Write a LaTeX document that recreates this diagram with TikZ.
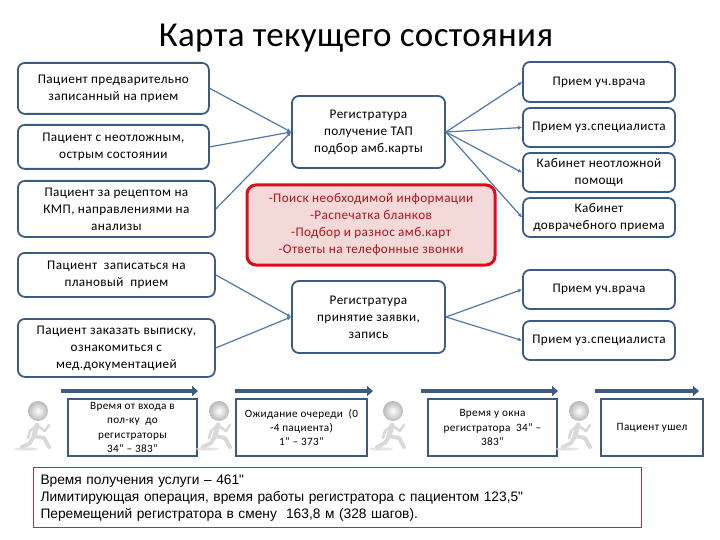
\documentclass[tikz,border=0pt]{standalone}
\usepackage{fontspec}
\setmainfont{Carlito}[LetterSpace=3]
\newfontfamily\titlefont{Carlito}[LetterSpace=1]
\newfontfamily\infofont{Liberation Sans}
\usepackage{tikz}
\usetikzlibrary{arrows.meta,positioning}
\definecolor{BoxBlue}{HTML}{3D5B80}
\definecolor{LinkBlue}{HTML}{4F79A8}
\definecolor{AlarmRed}{HTML}{DE0B1C}
\definecolor{AlarmText}{HTML}{B5121B}
\definecolor{AlarmFill}{HTML}{F3DAD9}
\definecolor{InfoRed}{HTML}{A4373F}
\tikzset{
  runner/.pic={
    \fill[gray!30,opacity=.7] (-12,38) ellipse (12 and 1.6);
    \draw[gray!30,line width=5pt,line cap=round,line join=round] (-1,14) -- (-4,25);
    \draw[gray!30,line width=4pt,line cap=round,line join=round] (-4,25) -- (6,27) -- (11,36);
    \draw[gray!30,line width=4pt,line cap=round,line join=round] (-4,25) -- (-8,32) -- (-16,36);
    \draw[gray!30,line width=2.6pt,line cap=round,line join=round] (-2,15) -- (-8,20) -- (-10,27);
    \draw[gray!30,line width=2.6pt,line cap=round,line join=round] (0,15) -- (7,20) -- (11,14);
    \shade[inner color=white,outer color=gray!55] (0,0) circle (10);
  }
}
\begin{document}
\begin{tikzpicture}[x=1pt,y=-1pt,
    box/.style={draw=BoxBlue,line width=1.8pt,rounded corners=7pt,fill=white,align=center,
                inner sep=1pt,font=\fontsize{13.2}{17}\selectfont},
    leftbox/.style={box,anchor=north west,minimum width=191pt},
    widebox/.style={leftbox,minimum width=197pt},
    midbox/.style={box,minimum width=153pt,minimum height=72pt},
    rightbox/.style={box,minimum width=152pt,minimum height=39pt},
    stepbox/.style={draw=BoxBlue,line width=1.8pt,align=center,inner sep=1pt,
                    font=\fontsize{11.2}{14.4}\selectfont,minimum height=57pt},
    link/.style={-{Latex[length=4pt,width=4pt]},line width=1.2pt,LinkBlue},
    flow/.style={-{Triangle[length=6pt,width=10pt]},line width=4pt,BoxBlue}]
    \path[use as bounding box] (0,0) rectangle (720,540);
    \node[font=\titlefont\fontsize{35}{40}\selectfont] (title) at (356,38) {Карта текущего состояния};
    % left column
    \node[leftbox,minimum height=51pt] (planned) at (17,62) {Пациент предварительно\\записанный на прием};
    \node[leftbox,minimum height=44pt] (urgent) at (17,124) {Пациент с неотложным,\\острым состоянии};
    \node[widebox,minimum height=56pt] (recipe) at (17,180) {Пациент за рецептом на\\КМП, направлениями на\\анализы};
    \node[widebox,minimum height=44pt] (signup) at (17,252) {Пациент\ \ записаться на\\плановый\ \ прием};
    \node[widebox,minimum height=58pt] (records) at (17,318) {Пациент заказать выписку,\\ознакомиться с\\мед.документацией};
    % middle column
    \node[midbox] (desk) at (368.5,132) {Регистратура\\получение ТАП\\подбор амб.карты};
    \node[box,draw=AlarmRed,line width=3pt,rounded corners=9pt,fill=AlarmFill,text=AlarmText,
          minimum width=248pt,minimum height=80pt] (extra) at (371,225)
          {-Поиск необходимой информации\\-Распечатка бланков\\-Подбор и разнос амб.карт\\-Ответы на телефонные звонки};
    \node[midbox] (intake) at (368.5,317) {Регистратура\\принятие заявки,\\запись};
    % right column
    \node[rightbox,minimum height=40pt] (gp) at (599,82) {Прием уч.врача};
    \node[rightbox,below=4.2pt of gp] (spec) {Прием уз.специалиста};
    \node[rightbox,below=4.2pt of spec] (emerg) {Кабинет неотложной\\помощи};
    \node[rightbox,below=4.2pt of emerg] (prev) {Кабинет\\доврачебного приема};
    \node[rightbox] (gpb) at (599,289.5) {Прием уч.врача};
    \node[rightbox,below=10.2pt of gpb] (specb) {Прием уз.специалиста};
    \draw[link] (planned.east) -- (desk.west);
    \draw[link] (urgent.east) -- (desk.west);
    \draw[link] (recipe.east) -- (desk.west);
    \draw[link] (signup.east) -- (intake.west);
    \draw[link] (records.east) -- (intake.west);
    \draw[link] (desk.east) -- (gp.west);
    \draw[link] (desk.east) -- (spec.west);
    \draw[link] (desk.east) -- (emerg.west);
    \draw[link] (desk.east) -- (prev.west);
    \draw[link] (intake.east) -- (gpb.west);
    \draw[link] (intake.east) -- (specb.west);
    % bottom row
    \node[stepbox,minimum width=129pt] (walk) at (132.5,427.5) {Время от входа в\\пол-ку\ \ до\\регистраторы\\34” – 383”};
    \node[stepbox,minimum width=131pt] (queue) at (301.5,427.5) {Ожидание очереди\ \ (0\\-4 пациента)\\1” – 373”};
    \node[stepbox,minimum width=129pt] (window) at (492.5,427.5) {Время у окна\\регистратора\ \ 34” –\\383”};
    \node[stepbox,minimum width=102pt] (leave) at (652,427.5) {Пациент ушел};
    \coordinate (flowa) at (61,391);
    \coordinate (flowb) at (198,391);
    \coordinate (flowc) at (235,391);
    \coordinate (flowd) at (373,391);
    \coordinate (flowe) at (421,391);
    \coordinate (flowf) at (558,391);
    \coordinate (flowg) at (595,391);
    \coordinate (flowh) at (699,391);
    \draw[flow] (flowa) -- (flowb);
    \draw[flow] (flowc) -- (flowd);
    \draw[flow] (flowe) -- (flowf);
    \draw[flow] (flowg) -- (flowh);
    \foreach \posx in {38,219,393,579}
      \pic at (\posx,411) {runner};
    \node[draw=InfoRed,line width=1pt,fill=white,anchor=north west,minimum width=608pt,minimum height=58pt,
          text width=594pt,align=left,inner sep=7pt,font=\infofont\fontsize{13.75}{17}\selectfont] (info) at (33,467)
          {Время получения услуги – 461"\\Лимитирующая операция, время работы регистратора с пациентом 123,5"\\Перемещений регистратора в смену\ \ 163,8 м (328 шагов).};
  \end{tikzpicture}
\end{document}
